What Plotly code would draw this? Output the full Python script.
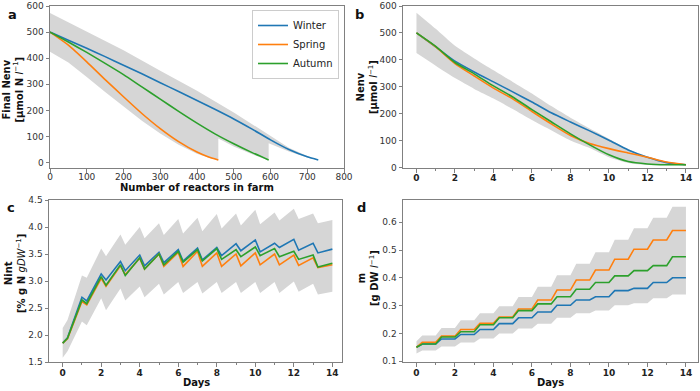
import plotly.graph_objects as go

# ---------------- Panel a: Final Nenv vs number of reactors ----------------
a_winter_x = [0, 50, 100, 150, 200, 250, 300, 350, 400, 450, 500, 550, 600, 650, 700, 730]
a_winter_y = [500, 469, 438, 406, 373, 340, 306, 272, 238, 203, 167, 128, 87, 50, 22, 10]
a_spring_x = [0, 50, 100, 150, 200, 250, 300, 350, 400, 430, 458]
a_spring_y = [500, 450, 386, 318, 252, 188, 130, 80, 40, 22, 10]
a_autumn_x = [0, 50, 100, 150, 200, 250, 300, 350, 400, 450, 500, 550, 595]
a_autumn_y = [500, 462, 422, 380, 337, 290, 243, 196, 151, 109, 72, 38, 10]
a_upper_x = [0, 100, 200, 300, 400, 500, 600, 650, 700, 730]
a_upper_y = [573, 503, 430, 352, 275, 192, 100, 57, 25, 11]
a_lower_x = [0, 50, 100, 150, 200, 250, 300, 350, 400, 430, 458, 458, 500, 550, 595, 595, 650, 700, 730]
a_lower_y = [425, 383, 328, 270, 214, 160, 111, 68, 34, 19, 8, 92, 61, 32, 8, 74, 42, 19, 9]

# ---------------- Panel b: Nenv vs days ----------------
b_days = [0, 1, 2, 3, 4, 5, 6, 7, 8, 9, 10, 11, 12, 13, 14]
b_winter = [500, 448, 395, 355, 318, 281, 243, 203, 169, 136, 101, 65, 38, 18, 10]
b_spring = [500, 448, 386, 340, 295, 255, 208, 162, 119, 89, 70, 54, 38, 20, 10]
b_autumn = [500, 450, 390, 348, 303, 262, 215, 170, 125, 84, 47, 22, 13, 10, 10]
b_upper = [575, 515, 452, 405, 361, 318, 275, 228, 185, 145, 107, 68, 38, 17, 11]
b_lower = [425, 378, 332, 292, 256, 217, 176, 138, 100, 72, 38, 17, 9, 8, 8]

# ---------------- Panel c: Nint (start, dips after each day 0..13, peaks at days 1..13, end) ----
c_winter_start, c_winter_end = 1.85, 3.59
c_winter_dips = [1.95, 2.63, 3.02, 3.19, 3.28, 3.34, 3.37, 3.39, 3.47, 3.56, 3.54, 3.62, 3.57, 3.52]
c_winter_peaks = [2.70, 3.13, 3.36, 3.48, 3.53, 3.58, 3.61, 3.62, 3.69, 3.76, 3.70, 3.77, 3.70]
c_spring_start, c_spring_end = 1.85, 3.30
c_spring_dips = [1.93, 2.56, 2.90, 3.12, 3.22, 3.27, 3.27, 3.27, 3.27, 3.28, 3.30, 3.30, 3.29, 3.25]
c_spring_peaks = [2.62, 3.05, 3.28, 3.42, 3.50, 3.53, 3.55, 3.52, 3.50, 3.52, 3.50, 3.48, 3.43]
c_autumn_start, c_autumn_end = 1.85, 3.33
c_autumn_dips = [1.94, 2.58, 2.92, 3.10, 3.22, 3.30, 3.35, 3.37, 3.40, 3.45, 3.47, 3.45, 3.40, 3.26]
c_autumn_peaks = [2.65, 3.08, 3.30, 3.43, 3.50, 3.55, 3.58, 3.60, 3.58, 3.63, 3.60, 3.55, 3.48]
c_upper_start, c_upper_end = 2.13, 4.13
c_upper_dips = [2.28, 3.06, 3.46, 3.67, 3.79, 3.85, 3.88, 3.92, 3.97, 4.03, 4.05, 4.12, 4.15, 4.07]
c_upper_peaks = [3.10, 3.60, 3.86, 4.00, 4.07, 4.15, 4.17, 4.24, 4.25, 4.32, 4.27, 4.34, 4.25]
c_lower_start, c_lower_end = 1.58, 2.80
c_lower_dips = [1.70, 2.18, 2.46, 2.64, 2.70, 2.75, 2.78, 2.77, 2.78, 2.78, 2.78, 2.78, 2.80, 2.75]
c_lower_peaks = [2.25, 2.68, 2.86, 2.90, 2.95, 2.98, 2.98, 2.98, 2.98, 2.98, 2.98, 2.99, 2.95]

# ---------------- Panel d: biomass m (start, level after each daily step 0..13) ----
d_start = 0.15
d_winter = [0.162, 0.180, 0.196, 0.214, 0.235, 0.256, 0.277, 0.301, 0.320, 0.332, 0.354, 0.362, 0.383, 0.400]
d_spring = [0.168, 0.190, 0.214, 0.236, 0.259, 0.288, 0.320, 0.356, 0.392, 0.428, 0.467, 0.503, 0.536, 0.570]
d_autumn = [0.162, 0.187, 0.206, 0.231, 0.256, 0.282, 0.306, 0.332, 0.359, 0.383, 0.407, 0.426, 0.444, 0.476]
d_upper_start = 0.172
d_upper = [0.192, 0.219, 0.247, 0.272, 0.298, 0.331, 0.368, 0.409, 0.451, 0.492, 0.537, 0.578, 0.616, 0.656]
d_lower_start = 0.128
d_lower = [0.138, 0.153, 0.167, 0.182, 0.200, 0.218, 0.235, 0.256, 0.272, 0.282, 0.301, 0.308, 0.326, 0.340]

seasons = ["Winter", "Spring", "Autumn"]
colors = {"Winter": "#1f77b4", "Spring": "#ff7f0e", "Autumn": "#2ca02c"}
band_color = "rgb(214,214,214)"
LW = 1.6
FONT = "DejaVu Sans"


def saw(start, dips, peaks, end, lag=0.25):
    xs, ys = [0], [start]
    for d in range(len(dips)):
        xs.append(d + lag)
        ys.append(dips[d])
        if d < len(peaks):
            xs.append(d + 1)
            ys.append(peaks[d])
    xs.append(14)
    ys.append(end)
    return xs, ys


def steps(start, levels, rise=0.3):
    xs, ys = [0], [start]
    prev = start
    for d, lv in enumerate(levels):
        xs += [d, d + rise]
        ys += [prev, lv]
        prev = lv
    xs.append(14)
    ys.append(prev)
    return xs, ys


fig = go.Figure()

# Panel a
fig.add_trace(go.Scatter(x=a_upper_x + a_lower_x[::-1], y=a_upper_y + a_lower_y[::-1],
                         fill="toself", fillcolor=band_color, line=dict(width=0),
                         mode="lines", showlegend=False, hoverinfo="skip", xaxis="x", yaxis="y"))
for s, xs, ys in [("Winter", a_winter_x, a_winter_y), ("Spring", a_spring_x, a_spring_y),
                  ("Autumn", a_autumn_x, a_autumn_y)]:
    fig.add_trace(go.Scatter(x=xs, y=ys, mode="lines", name=s,
                             line=dict(color=colors[s], width=LW, shape="spline", smoothing=0.6),
                             xaxis="x", yaxis="y"))

# Panel b
fig.add_trace(go.Scatter(x=b_days, y=b_lower, mode="lines", line=dict(width=0, shape="spline", smoothing=0.6),
                         showlegend=False, hoverinfo="skip", xaxis="x2", yaxis="y2"))
fig.add_trace(go.Scatter(x=b_days, y=b_upper, mode="lines", line=dict(width=0, shape="spline", smoothing=0.6),
                         fill="tonexty", fillcolor=band_color,
                         showlegend=False, hoverinfo="skip", xaxis="x2", yaxis="y2"))
for s, ys in [("Winter", b_winter), ("Spring", b_spring), ("Autumn", b_autumn)]:
    fig.add_trace(go.Scatter(x=b_days, y=ys, mode="lines", showlegend=False,
                             line=dict(color=colors[s], width=LW, shape="spline", smoothing=0.6),
                             xaxis="x2", yaxis="y2"))

# Panel c
lx, ly = saw(c_lower_start, c_lower_dips, c_lower_peaks, c_lower_end)
ux, uy = saw(c_upper_start, c_upper_dips, c_upper_peaks, c_upper_end)
fig.add_trace(go.Scatter(x=lx, y=ly, mode="lines", line=dict(width=0), showlegend=False,
                         hoverinfo="skip", xaxis="x3", yaxis="y3"))
fig.add_trace(go.Scatter(x=ux, y=uy, mode="lines", line=dict(width=0), fill="tonexty",
                         fillcolor=band_color, showlegend=False, hoverinfo="skip", xaxis="x3", yaxis="y3"))
for s, st, dp, pk, en in [("Winter", c_winter_start, c_winter_dips, c_winter_peaks, c_winter_end),
                          ("Spring", c_spring_start, c_spring_dips, c_spring_peaks, c_spring_end),
                          ("Autumn", c_autumn_start, c_autumn_dips, c_autumn_peaks, c_autumn_end)]:
    xs, ys = saw(st, dp, pk, en)
    fig.add_trace(go.Scatter(x=xs, y=ys, mode="lines", showlegend=False,
                             line=dict(color=colors[s], width=LW), xaxis="x3", yaxis="y3"))

# Panel d
lx, ly = steps(d_lower_start, d_lower)
ux, uy = steps(d_upper_start, d_upper)
fig.add_trace(go.Scatter(x=lx, y=ly, mode="lines", line=dict(width=0), showlegend=False,
                         hoverinfo="skip", xaxis="x4", yaxis="y4"))
fig.add_trace(go.Scatter(x=ux, y=uy, mode="lines", line=dict(width=0), fill="tonexty",
                         fillcolor=band_color, showlegend=False, hoverinfo="skip", xaxis="x4", yaxis="y4"))
for s, lv in [("Winter", d_winter), ("Spring", d_spring), ("Autumn", d_autumn)]:
    xs, ys = steps(d_start, lv)
    fig.add_trace(go.Scatter(x=xs, y=ys, mode="lines", showlegend=False,
                             line=dict(color=colors[s], width=LW), xaxis="x4", yaxis="y4"))

spine = "#808080"
tickfont = dict(family=FONT, size=9, color="#333333")
boldtick = dict(family=FONT, size=9, color="#222222", weight="bold")


def ax(**kw):
    base = dict(showline=True, linecolor=spine, linewidth=1, mirror=True, ticks="outside",
                ticklen=3.5, tickwidth=1, tickcolor=spine, showgrid=False, zeroline=False,
                tickfont=tickfont, fixedrange=True, automargin=False)
    base.update(kw)
    return base


minor = dict(dtick=1, ticks="outside", ticklen=2, tickcolor=spine, showgrid=False)

fig.update_layout(
    width=700, height=391, autosize=False,
    margin=dict(l=0, r=0, t=0, b=0),
    paper_bgcolor="white", plot_bgcolor="white",
    font=dict(family=FONT, size=10, color="#222222"),
    xaxis=ax(domain=[50/700, 344/700], anchor="y", range=[0, 800], dtick=100, tick0=0,
             ticklabelstandoff=-3),
    yaxis=ax(domain=[1-168/391, 1-6/391], anchor="x", range=[-21, 600], dtick=100, tick0=0),
    xaxis2=ax(domain=[403/700, 697.5/700], anchor="y2", range=[-0.7, 14.6], dtick=2, tick0=0,
              tickfont=boldtick, minor=minor, ticklabelstandoff=-2),
    yaxis2=ax(domain=[1-168/391, 1-6/391], anchor="x2", range=[-2, 600], dtick=100, tick0=0),
    xaxis3=ax(domain=[49/700, 342/700], anchor="y3", range=[-0.71, 14.5], dtick=2, tick0=0,
              tickfont=boldtick, minor=minor, ticklabelstandoff=-1),
    yaxis3=ax(domain=[1-362/391, 1-200/391], anchor="x3", range=[1.5, 4.5], dtick=0.5, tick0=1.5,
              tickformat=".1f"),
    xaxis4=ax(domain=[403/700, 697.5/700], anchor="y4", range=[-0.7, 14.6], dtick=2, tick0=0,
              tickfont=boldtick, minor=minor, ticklabelstandoff=-1),
    yaxis4=ax(domain=[1-362/391, 1-200/391], anchor="x4", range=[0.097, 0.68], dtick=0.1, tick0=0.2,
              tickformat=".1f"),
    legend=dict(x=339/700, xanchor="right", y=1-10/391, yanchor="top", traceorder="normal",
                bgcolor="rgba(255,255,255,0.9)", bordercolor="#cccccc", borderwidth=1,
                font=dict(family=FONT, size=10, color="#222222"), tracegroupgap=0,
                itemwidth=30),
)

annotations = [
    dict(text="<b>a</b>", x=12/700, y=1-15/391),
    dict(text="<b>b</b>", x=360/700, y=1-15/391),
    dict(text="<b>c</b>", x=11/700, y=1-207/391),
    dict(text="<b>d</b>", x=361/700, y=1-207/391),
]
for an in annotations:
    an.update(xref="paper", yref="paper", showarrow=False, xanchor="center", yanchor="middle",
              font=dict(family=FONT, size=13, color="#111111"))

xtitles = [
    ("<b>Number of reactors in farm</b>", 197, 187.5),
    ("<b>Days</b>", 196, 382),
    ("<b>Days</b>", 550, 382),
]
for txt, px, py in xtitles:
    annotations.append(dict(text=txt, x=px/700, y=1-py/391, xref="paper", yref="paper",
                            showarrow=False, xanchor="center", yanchor="middle",
                            font=dict(family=FONT, size=10, color="#111111")))

ytitles = [
    ("<b>Final Nenv</b><br><b>[µmol N </b><i>l</i><sup>−1</sup><b>]</b>", 12.5, 90),
    ("<b>Nenv</b><br><b>[µmol </b><i>l</i><sup>−1</sup><b>]</b>", 367, 87),
    ("<b>Nint</b><br><b>[% g N </b><i>gDW</i><sup>−1</sup><b>]</b>", 15, 274),
    ("<b>m</b><br><b>[g DW </b><i>l</i><sup>−1</sup><b>]</b>", 368, 278),
]
for txt, px, py in ytitles:
    annotations.append(dict(text=txt, x=px/700, y=1-py/391, xref="paper", yref="paper",
                            showarrow=False, textangle=-90, xanchor="center", yanchor="middle",
                            font=dict(family=FONT, size=10, color="#111111")))
fig.update_layout(annotations=annotations)

fig.write_html("out.html", config={"displayModeBar": False},
               post_script="document.documentElement.style.margin='0';"
                           "document.body.style.margin='0';"
                           "document.body.style.overflow='hidden';")
